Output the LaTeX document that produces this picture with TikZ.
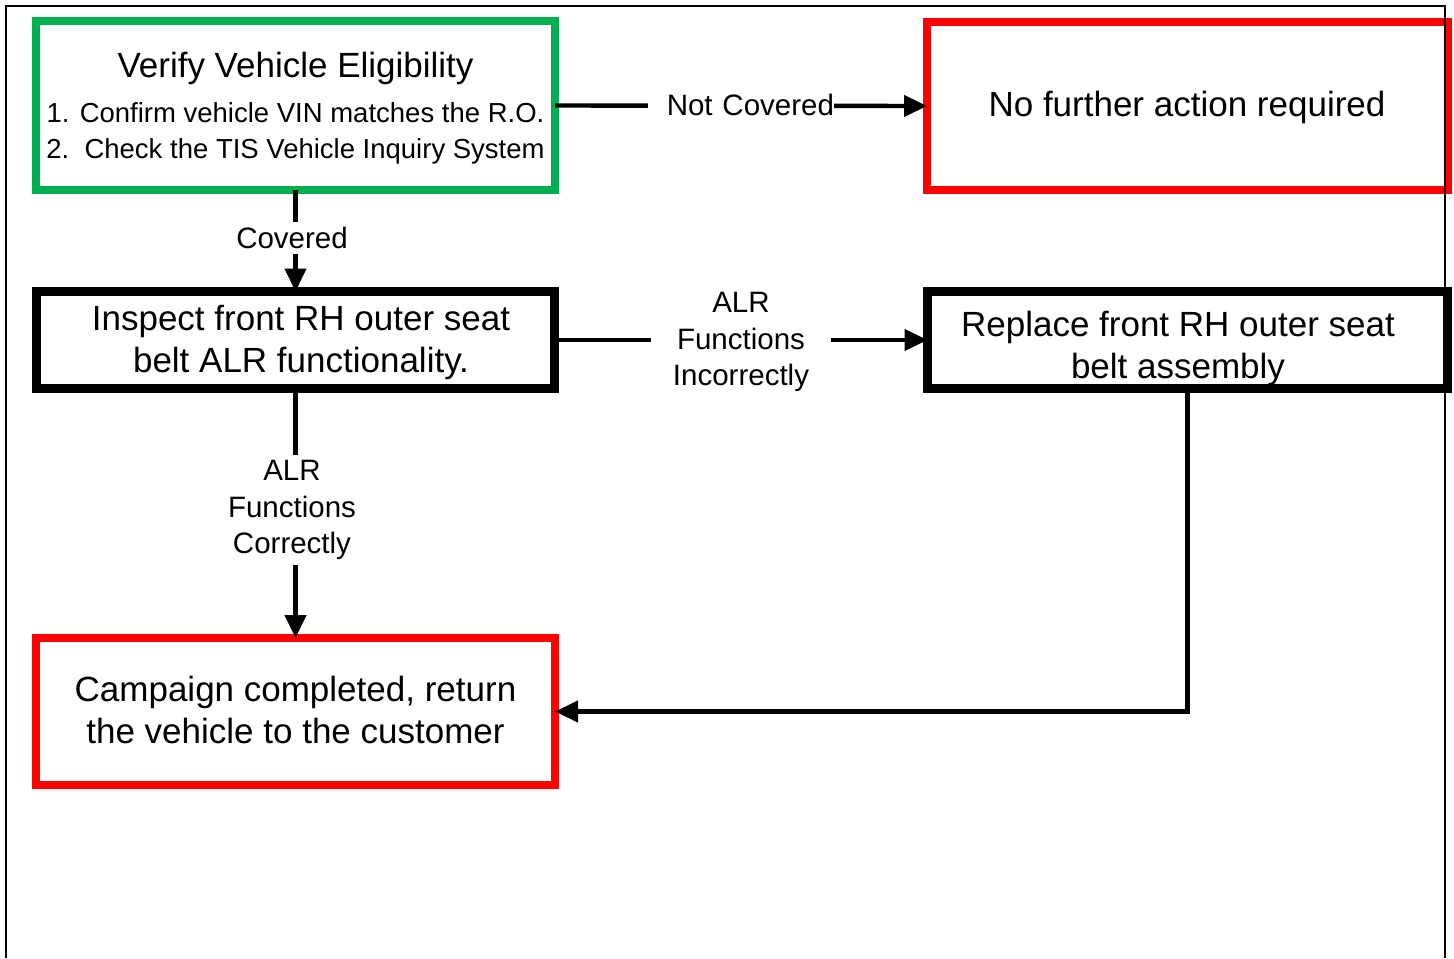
\documentclass[tikz,border=0pt]{standalone}
\usepackage{fontspec}
\setmainfont{Liberation Sans}
\usetikzlibrary{arrows.meta,shadows}
\definecolor{vgreen}{RGB}{0,176,80}
\definecolor{vred}{RGB}{255,0,0}
\definecolor{shadowblue}{RGB}{208,220,240}
\begin{document}
\begin{tikzpicture}[x=0.5pt,y=-0.5pt,
  box/.style={draw, line width=4.3pt, fill=white, inner sep=0pt, outer sep=0pt,
    drop shadow={shadow xshift=1.2pt, shadow yshift=-1.5pt, fill=shadowblue, opacity=0.6}},
  bigtxt/.style={align=center, inner sep=0pt, font=\fontsize{17.5}{21}\selectfont},
  lbl/.style={fill=white, align=center, inner sep=2.5pt, font=\fontsize{14.75}{18.25}\selectfont},
  conn/.style={line width=2.2pt, -{Triangle[length=11.5pt,width=10.5pt]}},
  plain/.style={line width=2.2pt}
]
\useasboundingbox (0,0) rectangle (1454,958);
\fill[white] (0,0) rectangle (1454,958);

% boxes
\node[box, draw=vgreen, minimum width=259.5pt, minimum height=84.5pt] (verify) at (295.5,105.5) {};
\node[box, draw=vred, minimum width=260.5pt, minimum height=84pt] (nofurther) at (1187.5,106) {};
\node[box, draw=black, minimum width=259pt, minimum height=48.5pt] (inspect) at (295.5,340) {};
\node[box, draw=black, minimum width=260pt, minimum height=48.5pt] (replace) at (1187.5,340) {};
\node[box, draw=vred, minimum width=259.5pt, minimum height=73.5pt] (campaign) at (295.5,711.5) {};

% texts
\node[bigtxt] (verifyT) at (295.5,68) {Verify Vehicle Eligibility};
\node[align=center, inner sep=0pt, font=\fontsize{13.75}{18}\selectfont] (verifyL) at (295.5,133)
  {1. Confirm vehicle VIN matches the R.O.\\2.\ \ Check the TIS Vehicle Inquiry System};
\node[bigtxt] (nofurtherT) at (1187,107) {No further action required};
\node[bigtxt] (inspectT) at (301,342.5) {Inspect front RH outer seat\\belt ALR functionality.};
\node[bigtxt] (replaceT) at (1178,348) {Replace front RH outer seat\\belt assembly};
\node[bigtxt] (campaignT) at (295.5,710) {Campaign completed, return\\the vehicle to the customer};

% connectors
\draw[conn] (verify.east) -- (nofurther.west);
\node[lbl, text width=93pt, align=right, inner xsep=0pt] (lNC) at (741,105) {Not Covered};

\draw[conn] (verify.south) -- (inspect.north);
\node[lbl] (lC) at (292,238) {Covered};

\draw[conn] (inspect.east) -- (replace.west);
\node[lbl, inner xsep=11pt] (lInc) at (741,342) {ALR\\Functions\\Incorrectly};

\draw[conn] (inspect.south) -- (campaign.north);
\node[lbl] (lCor) at (292,510) {ALR\\Functions\\Correctly};

\draw[conn] (replace.south) |- (campaign.east);

% frame
\draw[line width=1pt] (6,958) -- (6,6) -- (1445,6) -- (1445,958);
\end{tikzpicture}
\end{document}
